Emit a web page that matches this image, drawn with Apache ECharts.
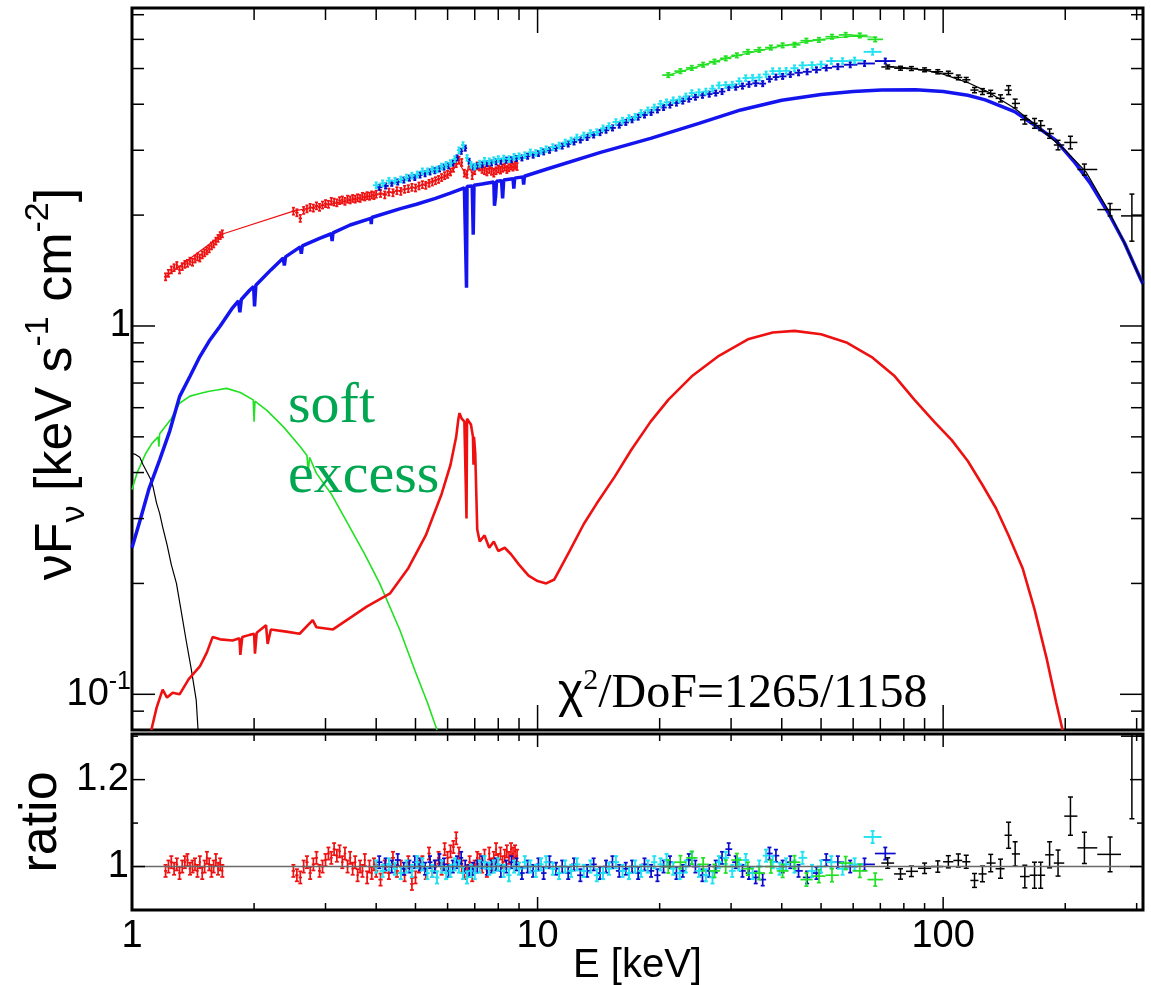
<!DOCTYPE html>
<html><head><meta charset="utf-8">
<script src="https://cdn.jsdelivr.net/npm/echarts@6/dist/echarts.min.js"></script>
<style>html,body{margin:0;padding:0;background:#fff}#c{width:1151px;height:985px}</style>
</head><body><div id="c"></div>
<script>
// ---------------- data ----------------
const X_MIN = 1, X_MAX = 311;
const Y_MIN = 0.08, Y_MAX = 7.3;
const R_MIN = 0.9, R_MAX = 1.305;

// tick values
const xMajorTicks = [1, 10, 100];
const xMinorTicks = [2,3,4,5,6,7,8,9,20,30,40,50,60,70,80,90,200,300];
const yTopMajorTicks = [0.1, 1];
const yTopMinorTicks = [0.09,0.2,0.3,0.4,0.5,0.6,0.7,0.8,0.9,2,3,4,5,6,7];
const yRatioMajorTicks = [1.0, 1.2];
const yRatioMinorTicks = [1.1, 1.3];

// red data (soft X-ray instrument)
const redE = [1.21,1.23,1.25,1.27,1.29,1.31,1.33,1.35,1.37,1.39,1.41,1.43,1.45,1.47,1.49,1.51,1.53,1.55,1.57,1.59,1.61,1.63,1.65,1.67,
  2.50,2.55,2.60,2.65,2.70,2.75,2.80,2.85,2.90,2.95,
  3.00,3.05,3.10,3.15,3.20,3.25,3.30,3.35,3.40,3.45,
  3.50,3.55,3.60,3.65,3.70,3.75,3.80,3.85,3.90,3.95,
  4.0,4.1,4.2,4.3,4.4,4.5,4.6,4.7,4.8,4.9,
  5.0,5.1,5.2,5.3,5.4,5.5,5.6,5.7,5.8,5.9,
  6.0,6.1,6.2,6.3,6.4,6.5,6.6,6.7,6.8,6.9,
  7.0,7.1,7.2,7.3,7.4,7.5,7.6,7.7,7.8,7.9,
  8.0,8.1,8.2,8.3,8.4,8.5,8.6,8.7,8.8,8.9];
const redFlux = [1.36,1.39,1.42,1.44,1.46,1.42,1.45,1.47,1.48,1.50,1.49,1.52,1.54,1.53,1.56,1.58,1.60,1.62,1.65,1.67,1.70,1.73,1.76,1.78,
  2.05,2.03,1.96,2.06,2.08,2.10,2.09,2.12,2.10,2.13,
  2.15,2.14,2.18,2.17,2.16,2.19,2.20,2.18,2.21,2.20,
  2.22,2.21,2.23,2.22,2.25,2.24,2.26,2.25,2.27,2.26,
  2.28,2.29,2.27,2.31,2.30,2.33,2.32,2.35,2.36,2.38,
  2.37,2.40,2.42,2.41,2.44,2.46,2.48,2.50,2.53,2.56,
  2.58,2.62,2.68,2.76,2.82,2.78,2.60,2.58,2.72,2.56,
  2.64,2.72,2.70,2.66,2.64,2.62,2.66,2.63,2.60,2.64,
  2.67,2.65,2.68,2.70,2.66,2.69,2.72,2.70,2.73,2.71];
const redRatio = [0.99,1.0,1.01,0.995,1.005,0.985,1.0,1.01,1.015,0.995,1.0,1.005,0.99,1.01,0.985,1.0,1.02,1.005,0.99,1.0,1.015,0.995,1.005,0.99,
  0.99,0.98,0.975,1.0,1.01,0.985,1.005,1.02,0.99,1.0,
  1.015,1.03,1.02,1.04,1.025,1.035,1.01,1.03,1.0,1.02,
  0.995,1.01,0.98,1.0,0.99,1.015,0.975,1.0,0.985,1.005,
  0.99,0.97,1.0,0.985,1.02,0.99,1.0,0.98,1.01,0.96,
  0.975,1.0,1.01,0.985,1.03,0.99,1.0,1.02,0.995,1.04,
  1.02,1.035,1.045,1.065,1.03,1.0,0.985,0.99,1.01,0.98,
  1.0,1.02,1.015,1.0,1.025,0.99,1.03,1.005,1.02,1.04,
  1.015,1.03,1.01,1.025,1.035,1.02,1.04,1.03,1.035,1.025];
const redFluxRelErr = 0.022;
const redRatioErr = 0.014;
const redModelE = [1.21,1.68,2.50,3.5,5.0,6.0,6.4,6.68,6.75,6.94,7.05,8.9];
const redModelF = [1.36,1.78,2.05,2.2,2.38,2.56,2.78,2.55,2.72,2.58,2.66,2.70];

// cyan data
const cyanE = [4.0,4.15,4.3,4.45,4.6,4.75,4.9,5.05,5.2,5.35, 5.5,5.65,5.8,5.95,6.1,6.25,6.4,6.55,6.7,6.85,
  7.0,7.2,7.4,7.6,7.8,8.0,8.25,8.5,8.75,9.0, 9.3,9.6,9.9,10.2,10.5,10.9,11.3,11.7,12.1,12.5,
  13.0,13.5,14.0,14.5,15.0,15.6,16.2,16.8,17.4,18.0, 18.7,19.4,20.1,20.8,21.6,22.4,23.2,24.0,25.0,26.0,
  27.0,28.0,29.1,30.2,31.4,32.6,33.9,35.2,36.6,38.0, 39.5,41.0,43.0,45.0,47.5,50.0,53.0,56.5,60.5,67.0];
const cyanFlux = [2.41,2.44,2.48,2.48,2.50,2.53,2.56,2.58,2.63,2.63, 2.66,2.66,2.71,2.74,2.77,2.84,3.00,3.10,2.86,2.74,
  2.71,2.76,2.81,2.80,2.82,2.84,2.85,2.84,2.88,2.89, 2.91,2.96,2.95,2.99,3.02,3.06,3.09,3.15,3.19,3.25,
  3.29,3.34,3.36,3.44,3.49,3.58,3.61,3.67,3.70,3.79, 3.85,3.92,4.01,4.05,4.10,4.12,4.20,4.29,4.31,4.33,
  4.41,4.50,4.51,4.52,4.62,4.71,4.72,4.73,4.82,4.92, 4.92,4.93,5.01,5.10,5.11,5.13,5.24,5.24,5.26,5.55];
const cyanRatio = [1.0,0.99,1.005,0.995,0.985,1.0,0.99,1.01,1.005,0.985, 0.99,0.975,1.0,0.985,0.99,1.005,1.0,0.985,0.975,0.99,
  0.985,1.0,1.01,0.995,1.0,1.005,0.99,0.98,1.0,0.995, 1.01,1.0,0.99,1.005,1.01,0.995,0.985,1.0,0.99,1.005,
  0.99,1.0,0.98,0.985,0.995,1.01,0.99,0.985,1.0,0.99, 1.0,1.01,1.005,1.015,0.995,0.985,1.0,1.02,0.99,0.98,
  0.975,1.01,1.02,0.99,1.005,1.015,0.985,1.0,1.025,1.01, 0.995,1.005,1.0,1.02,0.99,1.0,1.01,0.995,1.005,1.068];
const cyanFluxRelErr = 0.018;
const cyanRatioErr = 0.014;

// dark blue data
const blueE = [4.07,4.22,4.37,4.52,4.68,4.83,4.98,5.13,5.28,5.43, 5.58,5.73,5.88,6.03,6.18,6.33,6.48,6.63,6.78,6.93,
  7.1,7.3,7.5,7.7,7.9,8.12,8.37,8.62,8.87,9.15, 9.45,9.75,10.05,10.35,10.7,11.1,11.5,11.9,12.3,12.75,
  13.25,13.75,14.25,14.75,15.3,15.9,16.5,17.1,17.7,18.35, 19.05,19.75,20.45,21.2,22.0,22.8,23.6,24.5,25.5,26.5,
  27.5,28.5,29.6,30.8,32.0,33.2,34.5,35.9,37.3,38.7, 40.2,42.0,44.0,46.2,48.7,51.5,55.0,59.0,64.0,72.0];
const blueFlux = [2.38,2.40,2.44,2.46,2.49,2.52,2.53,2.57,2.59,2.62, 2.64,2.67,2.70,2.72,2.77,2.86,2.98,3.04,2.80,2.70,
  2.72,2.74,2.76,2.77,2.79,2.80,2.82,2.83,2.85,2.86, 2.89,2.91,2.94,2.97,3.00,3.04,3.08,3.12,3.16,3.20,
  3.25,3.30,3.35,3.40,3.45,3.51,3.57,3.63,3.69,3.74, 3.80,3.86,3.92,3.98,4.03,4.08,4.13,4.18,4.23,4.26,
  4.29,4.33,4.44,4.45,4.48,4.53,4.56,4.55,4.68,4.74, 4.76,4.82,4.87,4.90,4.96,5.02,5.06,5.12,5.16,5.24];
const blueRatio = [1.01,1.005,1.0,1.015,0.995,1.0,1.01,1.005,0.995,1.01, 1.0,1.015,1.005,0.99,1.0,1.01,1.02,1.0,0.99,0.995,
  1.0,1.01,0.995,1.0,1.005,0.99,1.0,1.01,1.005,0.985, 1.0,0.99,1.005,0.985,1.01,0.995,1.0,0.985,1.005,0.98,
  0.99,1.005,0.985,1.0,1.01,0.99,0.995,1.0,0.985,1.005, 0.99,0.98,1.0,1.01,0.985,0.99,1.015,1.0,0.98,0.99,
  1.0,1.02,1.04,1.01,0.99,0.985,0.975,0.97,1.03,1.025, 1.0,1.01,0.99,0.975,0.985,1.015,1.01,1.0,1.005,1.03];
const blueFluxRelErr = 0.016;
const blueRatioErr = 0.014;

// green data
const greenE = [21.0,22.5,24.0,25.6,27.3,29.1,31.0,33.0,35.2,37.6,40.2,43.0,46.0,49.4,53.2,57.5,62.3,68.0];
const greenFlux = [4.80,4.92,5.02,5.12,5.22,5.33,5.43,5.55,5.62,5.70,5.78,5.80,5.95,5.98,6.10,6.17,6.15,6.00];
const greenRatio = [1.0,1.01,1.02,1.005,0.99,1.0,1.015,0.995,0.985,1.0,0.99,1.01,0.97,0.978,0.98,1.008,0.99,0.97];
const greenFluxRelErr = 0.014;
const greenRatioErr = 0.015;
const greenModelE = [21,30,40,50,60,68];
const greenModelF = [4.8,5.38,5.76,6.0,6.12,6.08];

// black data (hard X-ray)
const blackE = [73,78.5,83.5,90,97,103,109,114,119.5,125,131,138.5,145,150.5,159,168,174,183,192,206,223,258,292];
const blackFlux = [5.05,5.01,5.00,4.96,4.90,4.85,4.73,4.66,4.37,4.33,4.28,4.15,4.37,4.02,3.63,3.55,3.50,3.33,3.10,3.15,2.66,2.07,1.99];
const blackRatio = [1.008,0.983,0.989,0.996,1.0,1.011,1.014,1.011,0.968,0.983,1.008,0.995,1.072,1.029,0.977,0.98,0.98,1.027,1.008,1.116,1.043,1.028,1.30];
const blackRatioErr = [0.012,0.012,0.012,0.012,0.013,0.014,0.015,0.015,0.016,0.018,0.02,0.022,0.03,0.028,0.026,0.03,0.03,0.03,0.03,0.044,0.036,0.04,0.19];
const blackModelE = [73,80,90,100,116,130,150,171,200,225,256,280,306,311];
const blackModelF = [5.07,5.03,4.95,4.83,4.56,4.30,3.90,3.48,3.0,2.62,2.05,1.68,1.35,1.30];

// total model (blue)
const totalModelE = [1.0,1.05,1.1,1.17,1.24,1.31,1.39,1.47,1.55,1.65,1.77,1.83,1.845,1.86,1.95,1.995,2.005,2.02,2.2,2.36,
  2.375,2.39,2.6,2.615,2.63,2.9,3.1,3.115,3.13,3.45,3.88,3.89,3.9,4.57,5.03,5.6,6.07,6.6,6.66,6.68,
  6.70,6.9,6.94,6.97,7.3,7.8,7.83,7.88,7.92,8.15,8.2,8.25,8.7,8.74,8.78,9.2,9.24,9.28,10.7,14.3,
  19,25,31.7,40,50,60,70.5,85.5,100,115,127,150,170,189,210,230,256,280,306,311];
const totalModelF = [0.25,0.30,0.36,0.433,0.52,0.643,0.73,0.826,0.91,1.0,1.12,1.17,1.09,1.18,1.25,1.28,1.13,1.29,1.42,1.53,
  1.46,1.54,1.64,1.57,1.65,1.73,1.78,1.70,1.79,1.88,1.96,1.89,1.97,2.08,2.14,2.22,2.29,2.37,2.38,1.27,
  2.39,2.40,1.77,2.41,2.43,2.46,2.12,2.25,2.47,2.48,2.22,2.49,2.51,2.36,2.52,2.54,2.42,2.55,2.68,2.96,
  3.23,3.55,3.86,4.10,4.25,4.33,4.37,4.38,4.33,4.23,4.11,3.82,3.48,3.20,2.80,2.45,2.02,1.68,1.35,1.30];

// reflection component (red)
const reflE = [1.116,1.15,1.19,1.22,1.26,1.31,1.38,1.47,1.53,1.58,1.65,1.77,1.84,1.85,1.87,1.95,2.0,2.01,2.03,2.14,
  2.16,2.2,2.4,2.59,2.79,2.85,3.13,3.5,3.79,4.33,4.8,5.3,5.8,6.1,6.3,6.38,6.42,6.5,6.6,6.66,
  6.68,6.70,6.85,6.93,6.95,6.97,7.02,7.1,7.2,7.4,7.6,7.8,8.0,8.3,8.6,9.0,9.5,10.0,10.5,11.0,
  12.0,13.0,14.0,15.5,17.0,19.0,21.0,24.0,28.0,33.0,38.0,43.0,50.0,58.0,67.0,76.0,85.0,95.0,105,115,
  125,135,145,157,168,180,190,197];
const reflF = [0.08,0.092,0.103,0.098,0.101,0.100,0.11,0.119,0.13,0.143,0.141,0.14,0.142,0.128,0.143,0.145,0.146,0.129,0.147,0.154,
  0.137,0.15,0.148,0.146,0.159,0.152,0.15,0.163,0.173,0.188,0.22,0.27,0.35,0.42,0.50,0.56,0.58,0.56,0.55,0.55,
  0.30,0.56,0.54,0.50,0.42,0.50,0.45,0.28,0.26,0.27,0.25,0.26,0.245,0.25,0.24,0.225,0.21,0.203,0.20,0.205,
  0.245,0.29,0.33,0.39,0.46,0.55,0.63,0.73,0.83,0.92,0.96,0.97,0.95,0.90,0.82,0.73,0.63,0.55,0.49,0.43,
  0.37,0.32,0.27,0.22,0.17,0.125,0.095,0.08];

// soft excess (green) and soft black component
const softGreenE = [1.0,1.03,1.08,1.12,1.16,1.165,1.17,1.25,1.31,1.39,1.47,1.55,1.62,1.71,1.85,1.99,2.0,2.01,2.15,2.36,
  2.6,2.7,2.72,2.74,2.85,3.1,3.44,3.75,4.08,4.57,5.0,5.35,5.65];
const softGreenF = [0.36,0.40,0.45,0.48,0.50,0.47,0.51,0.56,0.617,0.645,0.656,0.665,0.67,0.677,0.66,0.63,0.55,0.625,0.59,0.533,
  0.47,0.445,0.40,0.44,0.398,0.35,0.285,0.24,0.2,0.15,0.115,0.095,0.08];
const softBlackE = [1.0,1.02,1.045,1.065,1.09,1.11,1.127,1.15,1.17,1.19,1.22,1.25,1.287,1.32,1.36,1.40,1.44,1.455];
const softBlackF = [0.45,0.448,0.44,0.42,0.40,0.385,0.366,0.33,0.31,0.285,0.255,0.225,0.2,0.17,0.14,0.117,0.0964,0.08];

// ---------------- helpers ----------------
const SANS = "'Liberation Sans', Arial, Helvetica, sans-serif";
const SERIF = "'Liberation Serif', 'Times New Roman', serif";
const C_RED = '#ee1111', C_BLUE = '#1414ee', C_DBLUE = '#0a0acc', C_CYAN = '#20e2f0', C_GREEN = '#22e022', C_BLACK = '#000';

function zip(a, b) { return a.map((v, i) => [v, b[i]]); }
function binEdges(E) {
  const n = E.length, lo = [], hi = [];
  for (let i = 0; i < n; i++) {
    const pOk = i > 0 && E[i] / E[i - 1] < 1.25;
    const nOk = i < n - 1 && E[i + 1] / E[i] < 1.25;
    let l = pOk ? Math.sqrt(E[i] * E[i - 1]) : null;
    let h = nOk ? Math.sqrt(E[i] * E[i + 1]) : null;
    if (l === null && h !== null) l = E[i] * E[i] / h;
    if (h === null && l !== null) h = E[i] * E[i] / l;
    if (l === null) { l = E[i] * 0.98; h = E[i] * 1.02; }
    lo.push(l); hi.push(h);
  }
  return [lo, hi];
}
function rowsTop(E, V, rel) {
  const [lo, hi] = binEdges(E);
  return E.map((e, i) => { const r = Array.isArray(rel) ? rel[i] : rel; return [e, V[i], lo[i], hi[i], V[i] * (1 - r), V[i] * (1 + r)]; });
}
function rowsRatio(E, R, err) {
  const [lo, hi] = binEdges(E);
  return E.map((e, i) => { const r = Array.isArray(err) ? err[i] : err; return [e, R[i], lo[i], hi[i], R[i] - r, R[i] + r]; });
}
function errSeries(gi, rows, color, lw, cap, z) {
  return {
    type: 'custom', coordinateSystem: 'cartesian2d', xAxisIndex: gi, yAxisIndex: gi,
    clip: true, silent: true, z: z, data: rows, encode: { x: 0, y: 1 },
    renderItem(params, api) {
      const x = api.value(0), y = api.value(1);
      const p = api.coord([x, y]);
      const l = api.coord([api.value(2), y])[0], h = api.coord([api.value(3), y])[0];
      const yl = api.coord([x, api.value(4)])[1], yh = api.coord([x, api.value(5)])[1];
      const st = { stroke: color, lineWidth: lw };
      return { type: 'group', children: [
        { type: 'line', shape: { x1: l, y1: p[1], x2: h, y2: p[1] }, style: st },
        { type: 'line', shape: { x1: p[0], y1: yl, x2: p[0], y2: yh }, style: st },
        { type: 'line', shape: { x1: p[0] - cap, y1: yl, x2: p[0] + cap, y2: yl }, style: st },
        { type: 'line', shape: { x1: p[0] - cap, y1: yh, x2: p[0] + cap, y2: yh }, style: st }
      ]};
    }
  };
}
function lineSeries(gi, E, F, color, width, z) {
  return { type: 'line', xAxisIndex: gi, yAxisIndex: gi, data: zip(E, F), showSymbol: false, symbol: 'none',
    lineStyle: { color: color, width: width }, silent: true, z: z, clip: true };
}
function tickSeries(gi, axis, values, other, len) {
  return {
    type: 'custom', coordinateSystem: 'cartesian2d', xAxisIndex: gi, yAxisIndex: gi, clip: false, silent: true, z: 30,
    data: values.map(v => axis === 'x' ? [v, other] : [other, v]), encode: { x: 0, y: 1 },
    renderItem(params, api) {
      const cs = params.coordSys;
      const p = api.coord([api.value(0), api.value(1)]);
      const st = { stroke: '#000', lineWidth: 1.5 };
      if (axis === 'x') {
        return { type: 'group', children: [
          { type: 'line', shape: { x1: p[0], y1: cs.y + cs.height, x2: p[0], y2: cs.y + cs.height - len }, style: st },
          { type: 'line', shape: { x1: p[0], y1: cs.y, x2: p[0], y2: cs.y + len }, style: st }
        ]};
      }
      return { type: 'group', children: [
        { type: 'line', shape: { x1: cs.x, y1: p[1], x2: cs.x + len, y2: p[1] }, style: st },
        { type: 'line', shape: { x1: cs.x + cs.width, y1: p[1], x2: cs.x + cs.width - len, y2: p[1] }, style: st }
      ]};
    }
  };
}
const near = (a, b) => Math.abs(a - b) < 1e-6 * Math.max(1, Math.abs(b));

// ---------------- chart ----------------
const chart = echarts.init(document.getElementById('c'), null, { renderer: 'canvas' });
const hiddenAxisBits = { axisLine: { show: false }, axisTick: { show: false }, splitLine: { show: false }, minorTick: { show: false } };
const blackTopRel = blackRatioErr.map((e, i) => e / blackRatio[i]);

chart.setOption({
  animation: false,
  backgroundColor: '#fff',
  textStyle: { fontFamily: SANS },
  grid: [
    { left: 132, right: 8, top: 8, height: 722, show: true, borderColor: '#000', borderWidth: 3, backgroundColor: 'transparent', containLabel: false, outerBoundsMode: 'none' },
    { left: 132, right: 8, top: 734, height: 176, show: true, borderColor: '#000', borderWidth: 3, backgroundColor: 'transparent', containLabel: false, outerBoundsMode: 'none' }
  ],
  xAxis: [
    Object.assign({ type: 'log', logBase: 10, gridIndex: 0, min: X_MIN, max: X_MAX, axisLabel: { show: false } }, hiddenAxisBits),
    Object.assign({ type: 'log', logBase: 10, gridIndex: 1, min: X_MIN, max: X_MAX,
      name: 'E [keV]', nameLocation: 'middle', nameGap: 36, nameMoveOverlap: false,
      nameTextStyle: { fontSize: 40, color: '#000', fontFamily: SANS },
      axisLabel: { show: true, fontSize: 38, color: '#000', margin: 8, showMinLabel: true, showMaxLabel: false, hideOverlap: false,
        formatter: v => (near(v, 1) ? '1' : near(v, 10) ? '10' : near(v, 100) ? '100' : '') } }, hiddenAxisBits)
  ],
  yAxis: [
    Object.assign({ type: 'log', logBase: 10, gridIndex: 0, min: Y_MIN, max: Y_MAX,
      name: '{t|νF}{sub|ν}{t| [keV s}{sup|-1}{t| cm}{sup|-2}{t|]}', nameLocation: 'middle', nameGap: 40, nameMoveOverlap: false,
      nameTextStyle: { color: '#000', fontFamily: SANS, fontSize: 52, padding: [0, 30, 0, 0],
        rich: { t: { fontSize: 52, lineHeight: 70, fontFamily: SANS, color: '#000' },
                sub: { fontSize: 34, lineHeight: 34, verticalAlign: 'bottom', fontFamily: SANS, color: '#000' },
                sup: { fontSize: 34, lineHeight: 34, verticalAlign: 'top', fontFamily: SANS, color: '#000' } } },
      axisLabel: { show: true, margin: 1, color: '#000', showMinLabel: false, showMaxLabel: false, hideOverlap: false,
        formatter: v => (near(v, 1) ? '{b|1}' : near(v, 0.1) ? '{b|10}{s|-1}' : ''),
        rich: { b: { fontSize: 38, lineHeight: 50, fontFamily: SANS, color: '#000' },
                s: { fontSize: 25, lineHeight: 25, verticalAlign: 'top', fontFamily: SANS, color: '#000' } } } }, hiddenAxisBits),
    Object.assign({ type: 'value', gridIndex: 1, min: R_MIN, max: R_MAX, interval: 0.1,
      name: 'ratio', nameLocation: 'middle', nameGap: 64, nameMoveOverlap: false,
      nameTextStyle: { fontSize: 52, color: '#000', fontFamily: SANS },
      axisLabel: { show: true, fontSize: 38, color: '#000', margin: 3, showMinLabel: false, showMaxLabel: false, hideOverlap: false,
        formatter: v => (near(v, 1) ? '1' : near(v, 1.2) ? '1.2' : '') } }, hiddenAxisBits)
  ],
  graphic: [
    { type: 'text', x: 288, y: 407, silent: true, z: 50,
      style: { text: 'soft', fill: '#00a650', font: "58px 'Liberation Serif', 'Times New Roman', serif", verticalAlign: 'middle', align: 'left' } },
    { type: 'text', x: 288, y: 477, silent: true, z: 50,
      style: { text: 'excess', fill: '#00a650', font: "58px 'Liberation Serif', 'Times New Roman', serif", verticalAlign: 'middle', align: 'left' } },
    { type: 'text', x: 558, y: 694, silent: true, z: 50,
      style: { text: '{c|χ}{s|2}{t|/DoF=1265/1158}', verticalAlign: 'middle', align: 'left',
        rich: { c: { fontSize: 48, lineHeight: 56, fontFamily: SANS, fill: '#000', color: '#000' },
                s: { fontSize: 30, lineHeight: 30, verticalAlign: 'top', fontFamily: SERIF, fill: '#000', color: '#000' },
                t: { fontSize: 48, lineHeight: 56, fontFamily: SERIF, fill: '#000', color: '#000' } } } }
  ],
  series: [
    // ---- top panel: model components ----
    lineSeries(0, softGreenE, softGreenF, C_GREEN, 1.6, 2),
    lineSeries(0, softBlackE, softBlackF, C_BLACK, 1.2, 2),
    lineSeries(0, reflE, reflF, C_RED, 2.6, 3),
    lineSeries(0, totalModelE, totalModelF, C_BLUE, 3.5, 4),
    // ---- top panel: data ----
    errSeries(0, rowsTop(redE, redFlux, redFluxRelErr), C_RED, 1.7, 1.5, 6),
    lineSeries(0, redModelE, redModelF, C_RED, 1.2, 6),
    errSeries(0, rowsTop(blueE, blueFlux, blueFluxRelErr), C_DBLUE, 1.9, 1.5, 6),
    errSeries(0, rowsTop(cyanE, cyanFlux, cyanFluxRelErr), C_CYAN, 1.9, 1.5, 7),
    errSeries(0, rowsTop(greenE, greenFlux, greenFluxRelErr), C_GREEN, 1.7, 2, 7),
    lineSeries(0, greenModelE, greenModelF, C_GREEN, 1.2, 7),
    errSeries(0, rowsTop(blackE, blackFlux, blackTopRel), C_BLACK, 1.5, 2.5, 8),
    lineSeries(0, blackModelE, blackModelF, C_BLACK, 1.2, 8),
    // ---- bottom panel: ratio ----
    errSeries(1, rowsRatio(redE, redRatio, redRatioErr), C_RED, 1.7, 2, 6),
    errSeries(1, rowsRatio(blueE, blueRatio, blueRatioErr), C_DBLUE, 1.7, 2, 6),
    errSeries(1, rowsRatio(cyanE, cyanRatio, cyanRatioErr), C_CYAN, 1.9, 2, 7),
    errSeries(1, rowsRatio(greenE, greenRatio, greenRatioErr), C_GREEN, 1.7, 2, 7),
    errSeries(1, rowsRatio(blackE, blackRatio, blackRatioErr), C_BLACK, 1.5, 2.5, 8),
    lineSeries(1, [X_MIN, X_MAX], [1, 1], '#6a6a6a', 1.5, 9),
    // ---- ticks ----
    tickSeries(0, 'x', xMajorTicks, Y_MIN, 25),
    tickSeries(0, 'x', xMinorTicks, Y_MIN, 12),
    tickSeries(0, 'y', yTopMajorTicks, X_MIN, 23),
    tickSeries(0, 'y', yTopMinorTicks, X_MIN, 12),
    tickSeries(1, 'x', xMajorTicks, R_MIN, 13),
    tickSeries(1, 'x', xMinorTicks, R_MIN, 7),
    tickSeries(1, 'y', yRatioMajorTicks, X_MIN, 13),
    tickSeries(1, 'y', yRatioMinorTicks, X_MIN, 6)
  ]
});
</script>
</body></html>
